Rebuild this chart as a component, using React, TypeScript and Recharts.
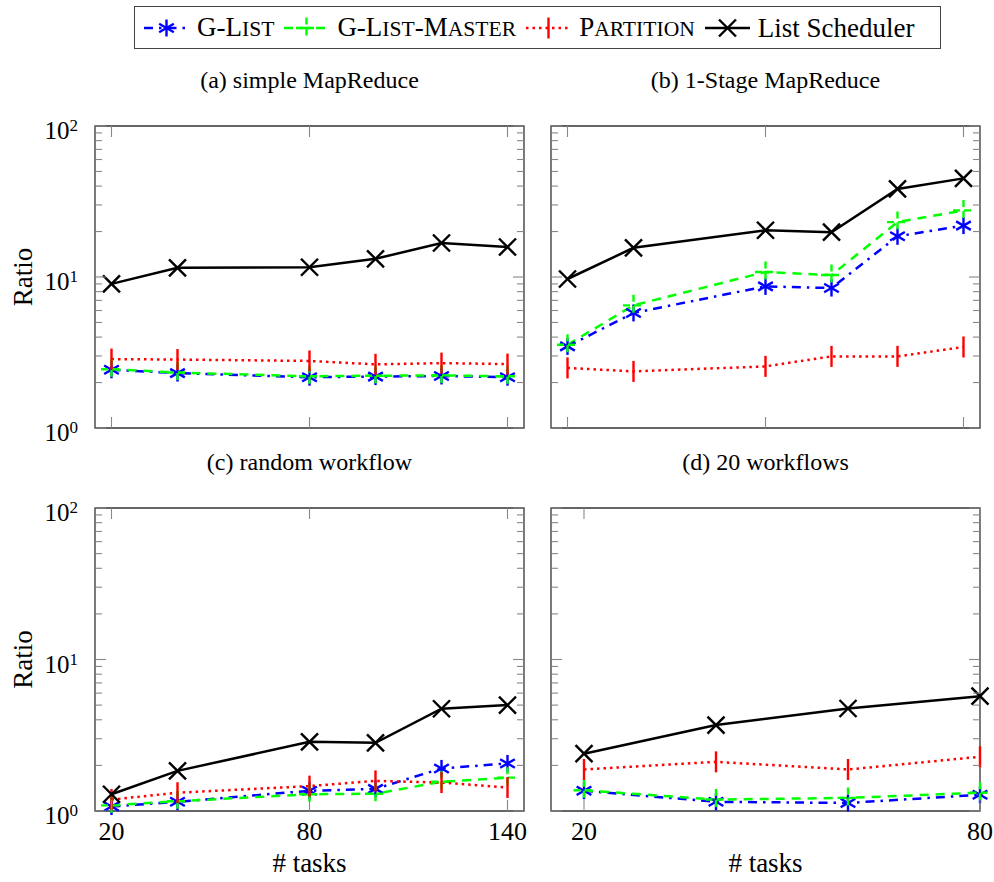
import React from 'react';
import { LineChart, Line, XAxis, YAxis, ReferenceArea } from 'recharts';

// x values (# tasks) per panel
const tasksA = [20, 40, 80, 100, 120, 140];
const tasksB = [20, 40, 80, 100, 120, 140];
const tasksC = [20, 40, 80, 100, 120, 140];
const tasksD = [20, 40, 60, 80];

// (a) simple MapReduce
const gListA = [2.43, 2.31, 2.17, 2.19, 2.21, 2.17];
const gMasterA = [2.45, 2.33, 2.2, 2.22, 2.23, 2.2];
const partitionA = [2.86, 2.84, 2.78, 2.64, 2.69, 2.65];
const listA = [9.0, 11.5, 11.6, 13.2, 16.8, 15.8];

// (b) 1-Stage MapReduce
const gListB = [3.47, 5.78, 8.67, 8.45, 18.6, 21.9];
const gMasterB = [3.56, 6.49, 10.8, 10.3, 23.1, 27.6];
const partitionB = [2.5, 2.37, 2.56, 2.98, 2.98, 3.44];
const listB = [9.7, 15.6, 20.4, 19.8, 38.3, 45.0];

// (c) random workflow
const gListC = [1.07, 1.15, 1.36, 1.4, 1.91, 2.06];
const gMasterC = [1.09, 1.16, 1.29, 1.3, 1.56, 1.66];
const partitionC = [1.19, 1.32, 1.46, 1.58, 1.54, 1.43];
const listC = [1.29, 1.84, 2.86, 2.82, 4.73, 5.0];

// (d) 20 workflows
const gListD = [1.36, 1.15, 1.13, 1.28];
const gMasterD = [1.37, 1.19, 1.22, 1.32];
const partitionD = [1.88, 2.11, 1.88, 2.28];
const listD = [2.39, 3.69, 4.75, 5.73];

const xTicksWide = [20, 80, 140];
const xTicksNarrow = [20, 80];
const yTicks = [1, 2, 3, 4, 5, 6, 7, 8, 9, 10, 20, 30, 40, 50, 60, 70, 80, 90, 100];
const yMajor = [1, 10, 100];

const FONT = "'Liberation Serif', 'DejaVu Serif', 'Noto Serif', serif";
const TICK_COLOR = '#888';

function makeRows(x: number[], g: number[], m: number[], p: number[], l: number[]) {
  return x.map((v, i) => ({ x: v, glist: g[i], gmaster: m[i], partition: p[i], list: l[i] }));
}

// marks
const Star = ({ cx, cy, r = 8.5, color = '#0000ff' }: any) => {
  const dx = r * Math.cos(Math.PI / 6);
  const dy = r * Math.sin(Math.PI / 6);
  return (
    <g stroke={color} strokeWidth={2.4} fill="none">
      <line x1={cx} y1={cy - r} x2={cx} y2={cy + r} />
      <line x1={cx - dx} y1={cy - dy} x2={cx + dx} y2={cy + dy} />
      <line x1={cx - dx} y1={cy + dy} x2={cx + dx} y2={cy - dy} />
    </g>
  );
};

const Plus = ({ cx, cy, r = 10.5 }: any) => (
  <g stroke="#00ff00" strokeWidth={2.4} strokeDasharray="7 4" fill="none">
    <line x1={cx} y1={cy - r} x2={cx} y2={cy + r} />
    <line x1={cx - r} y1={cy} x2={cx + r} y2={cy} />
  </g>
);

const Bar = ({ cx, cy, r = 10.5 }: any) => (
  <line x1={cx} y1={cy - r} x2={cx} y2={cy + r} stroke="#ff0000" strokeWidth={2.4} />
);

const Cross = ({ cx, cy, r = 8.5 }: any) => (
  <g stroke="#000" strokeWidth={2.4}>
    <line x1={cx - r} y1={cy - r} x2={cx + r} y2={cy + r} />
    <line x1={cx - r} y1={cy + r} x2={cx + r} y2={cy - r} />
  </g>
);

const dotWith = (Mark: any, tag: string) => (props: any) => (
  <Mark key={`${tag}-${props.index}`} cx={props.cx} cy={props.cy} />
);

interface PanelProps {
  rows: any[];
  xDomain: [number, number];
  xTicks: number[];
  left: number;
  top: number;
  plotLeft: number;
  plotTop: number;
  plotW: number;
  plotH: number;
  xLabels: boolean;
  yLabels: boolean;
  title: string;
}

function Panel({ rows, xDomain, xTicks, left, top, plotLeft, plotTop, plotW, plotH, xLabels, yLabels, title }: PanelProps) {
  const yw = plotLeft - left;
  const mt = plotTop - top;
  const xh = xLabels ? 75 : 24;
  const width = plotLeft + plotW - left + 14;
  const height = mt + plotH + xh;

  const yTick = (p: any) => {
    const v = p.payload.value;
    const major = yMajor.includes(v);
    const len = major ? 11 : 7;
    const exp = Math.round(Math.log10(v));
    return (
      <g>
        <line x1={p.x} y1={p.y} x2={p.x + len} y2={p.y} stroke={TICK_COLOR} strokeWidth={1.1} />
        <line x1={p.x + plotW} y1={p.y} x2={p.x + plotW - len} y2={p.y} stroke={TICK_COLOR} strokeWidth={1.1} />
        {major && yLabels && (
          <text x={p.x - 17} y={p.y + 13} textAnchor="end" fontSize={25} fill="#000" style={{ fontFamily: FONT }}>
            10
            <tspan dy={-8} fontSize={17}>
              {exp}
            </tspan>
          </text>
        )}
      </g>
    );
  };

  const xTick = (p: any) => (
    <g>
      <line x1={p.x} y1={p.y} x2={p.x} y2={p.y - 11} stroke={TICK_COLOR} strokeWidth={1.1} />
      <line x1={p.x} y1={p.y - plotH} x2={p.x} y2={p.y - plotH + 11} stroke={TICK_COLOR} strokeWidth={1.1} />
      {xLabels && (
        <text x={p.x} y={p.y + 29} textAnchor="middle" fontSize={26} fill="#000" style={{ fontFamily: FONT }}>
          {p.payload.value}
        </text>
      )}
    </g>
  );

  return (
    <div style={{ position: 'absolute', left, top, width, height }}>
      <div
        style={{
          position: 'absolute',
          left: plotLeft - left,
          width: plotW,
          top: -32,
          textAlign: 'center',
          fontSize: 24,
          lineHeight: '24px',
          whiteSpace: 'nowrap',
        }}
      >
        {title}
      </div>
      <LineChart width={width} height={height} data={rows} margin={{ top: mt, right: 14, bottom: 0, left: 0 }}>
        <XAxis
          dataKey="x"
          type="number"
          domain={xDomain}
          ticks={xTicks}
          interval={0}
          tickSize={0}
          tickMargin={0}
          tickLine={false}
          axisLine={false}
          height={xh}
          tick={xTick}
          label={
            xLabels
              ? (lp: any) => {
                  const vb = lp.viewBox;
                  return (
                    <text x={vb.x + vb.width / 2} y={vb.y + 61} textAnchor="middle" fontSize={27} fill="#000" style={{ fontFamily: FONT }}>
                      # tasks
                    </text>
                  );
                }
              : undefined
          }
        />
        <YAxis
          type="number"
          scale="log"
          domain={[1, 100]}
          ticks={yTicks}
          interval={0}
          tickSize={0}
          tickMargin={0}
          tickLine={false}
          axisLine={false}
          width={yw}
          tick={yTick}
          label={
            yLabels
              ? (lp: any) => {
                  const vb = lp.viewBox;
                  const cy = vb.y + vb.height / 2;
                  return (
                    <text x={32} y={cy} transform={`rotate(-90 32 ${cy})`} textAnchor="middle" fontSize={27} fill="#000" style={{ fontFamily: FONT }}>
                      Ratio
                    </text>
                  );
                }
              : undefined
          }
        />
        <ReferenceArea x1={xDomain[0]} x2={xDomain[1]} y1={1} y2={100} fill="none" stroke="#333" strokeWidth={1.3} />
        <Line dataKey="glist" stroke="#0000ff" strokeWidth={2.5} strokeDasharray="9 6 2.5 6" dot={dotWith(Star, 'g')} activeDot={false} isAnimationActive={false} />
        <Line dataKey="gmaster" stroke="#00ff00" strokeWidth={2.5} strokeDasharray="9 7" dot={dotWith(Plus, 'm')} activeDot={false} isAnimationActive={false} />
        <Line dataKey="partition" stroke="#ff0000" strokeWidth={2.5} strokeDasharray="2.5 4" dot={dotWith(Bar, 'p')} activeDot={false} isAnimationActive={false} />
        <Line dataKey="list" stroke="#000" strokeWidth={2.5} dot={dotWith(Cross, 'l')} activeDot={false} isAnimationActive={false} />
      </LineChart>
    </div>
  );
}

const sc = (s: string) => <span style={{ fontSize: '0.8em' }}>{s}</span>;

function LegendIcon({ kind }: { kind: string }) {
  const dash: Record<string, string | undefined> = { g: '9 6 2.5 6', m: '9 7', p: '2.5 4', l: undefined };
  const color: Record<string, string> = { g: '#0000ff', m: '#00ff00', p: '#ff0000', l: '#000' };
  return (
    <svg width={45} height={30} style={{ display: 'block' }}>
      <line x1={0} y1={15} x2={45} y2={15} stroke={color[kind]} strokeWidth={2.5} strokeDasharray={dash[kind]} />
      {kind === 'g' && <Star cx={22.5} cy={15} />}
      {kind === 'm' && <Plus cx={22.5} cy={15} />}
      {kind === 'p' && <Bar cx={22.5} cy={15} />}
      {kind === 'l' && <Cross cx={22.5} cy={15} />}
    </svg>
  );
}

export default function App() {
  const rowsA = makeRows(tasksA, gListA, gMasterA, partitionA, listA);
  const rowsB = makeRows(tasksB, gListB, gMasterB, partitionB, listB);
  const rowsC = makeRows(tasksC, gListC, gMasterC, partitionC, listC);
  const rowsD = makeRows(tasksD, gListD, gMasterD, partitionD, listD);

  const item = { display: 'flex', alignItems: 'center' } as const;
  const txt = { marginLeft: 8, marginRight: 10, whiteSpace: 'nowrap' } as const;

  return (
    <div style={{ position: 'absolute', left: 0, top: 0, width: 994, height: 882, fontFamily: FONT, color: '#000', background: '#fff' }}>
      <div
        style={{
          position: 'absolute',
          left: 134,
          top: 6,
          width: 807,
          height: 43,
          border: '1.3px solid #444',
          boxSizing: 'border-box',
          display: 'flex',
          alignItems: 'center',
          paddingLeft: 9,
          fontSize: 27,
          lineHeight: '30px',
        }}
      >
        <div style={item}>
          <LegendIcon kind="g" />
          <span style={txt}>G-L{sc('IST')}</span>
        </div>
        <div style={item}>
          <LegendIcon kind="m" />
          <span style={txt}>
            G-L{sc('IST')}-M{sc('ASTER')}
          </span>
        </div>
        <div style={item}>
          <LegendIcon kind="p" />
          <span style={txt}>P{sc('ARTITION')}</span>
        </div>
        <div style={item}>
          <LegendIcon kind="l" />
          <span style={txt}>List Scheduler</span>
        </div>
      </div>

      <Panel rows={rowsA} xDomain={[15, 145]} xTicks={xTicksWide} left={0} top={100} plotLeft={95} plotTop={126} plotW={429} plotH={302} xLabels={false} yLabels={true} title="(a) simple MapReduce" />
      <Panel rows={rowsB} xDomain={[15, 145]} xTicks={xTicksWide} left={541} top={100} plotLeft={551} plotTop={126} plotW={429} plotH={302} xLabels={false} yLabels={false} title="(b) 1-Stage MapReduce" />
      <Panel rows={rowsC} xDomain={[15, 145]} xTicks={xTicksWide} left={0} top={482} plotLeft={95} plotTop={508} plotW={429} plotH={303} xLabels={true} yLabels={true} title="(c) random workflow" />
      <Panel rows={rowsD} xDomain={[15, 80]} xTicks={xTicksNarrow} left={541} top={482} plotLeft={551} plotTop={508} plotW={429} plotH={303} xLabels={true} yLabels={false} title="(d) 20 workflows" />
    </div>
  );
}
